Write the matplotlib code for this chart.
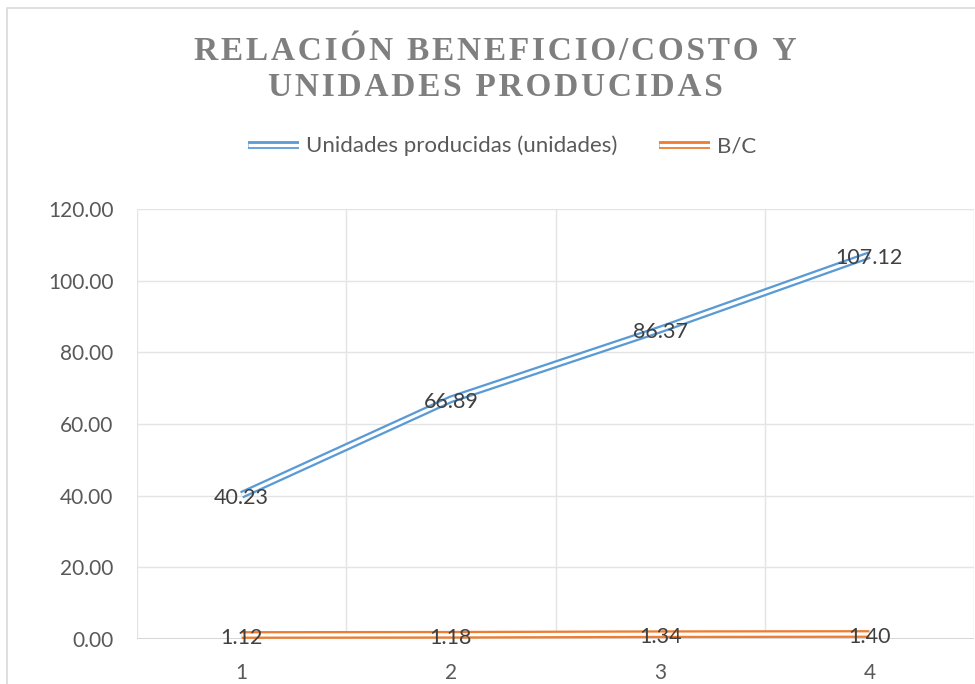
import matplotlib
matplotlib.use("Agg")
import matplotlib.pyplot as plt
from matplotlib.lines import Line2D
from matplotlib.patches import Rectangle
from matplotlib.legend_handler import HandlerTuple

# data
periodos = [1, 2, 3, 4]
unidades = [40.23, 66.89, 86.37, 107.12]
beneficio_costo = [1.12, 1.18, 1.34, 1.40]
y_ticks = [0, 20, 40, 60, 80, 100, 120]

titulo = ["RELACIÓN BENEFICIO/COSTO Y", "UNIDADES PRODUCIDAS"]
nombres = ["Unidades producidas (unidades)", "B/C"]

AZUL = "#5B9BD5"
NARANJA = "#ED7D31"
GRIS_TXT = "#595959"
GRIS_GRID = "#e4e4e4"

plt.rcParams["font.family"] = ["Lato", "DejaVu Sans"]

W, H = 975, 684
fig = plt.figure(figsize=(W / 100, H / 100), dpi=100)
fig.patch.set_facecolor("white")

# chart area border (cut off at right and bottom like the screenshot)
fig.patches.append(Rectangle((7 / W, -0.1), 1.2, 1 - 8 / H + 0.1,
                             transform=fig.transFigure, fill=False,
                             edgecolor="#d9d9d9", linewidth=1.2))

ax = fig.add_axes([137 / W, 1 - 639 / H, (974 - 137) / W, (639 - 209) / H])
ax.set_xlim(0.5, 4.5)
ax.set_ylim(0, 120)

# gridlines between the categories, Excel style
for xg in [0.5, 1.5, 2.5, 3.5, 4.5]:
    ax.axvline(xg, color=GRIS_GRID, lw=1.0, zorder=0)
for yg in y_ticks[1:]:
    ax.axhline(yg, color=GRIS_GRID, lw=1.0, zorder=0)
ax.axhline(0, color="#d0d0d0", lw=1.2, zorder=1)

for s in ax.spines.values():
    s.set_visible(False)

ax.set_yticks(y_ticks)
ax.set_yticklabels([f"{v:.2f}" for v in y_ticks])
ax.set_xticks(periodos)
ax.set_xticklabels([str(p) for p in periodos])
ax.tick_params(axis="both", length=0, labelsize=15, colors=GRIS_TXT)
ax.tick_params(axis="y", pad=17)
ax.tick_params(axis="x", pad=17)


def doble_linea(x, y, color):
    # compound "double" line: wide coloured stroke with a white core
    ax.plot(x, y, color=color, lw=5.6, solid_capstyle="butt", zorder=3)
    ax.plot(x, y, color="white", lw=2.3, solid_capstyle="butt", zorder=4)


doble_linea(periodos, unidades, AZUL)
doble_linea(periodos, beneficio_costo, NARANJA)

for serie in [unidades, beneficio_costo]:
    for xp, yp in zip(periodos, serie):
        ax.annotate(f"{yp:.2f}", (xp, yp), xytext=(0, -2),
                    textcoords="offset points", ha="center", va="center",
                    fontsize=15.5, color="#404040", zorder=6)

# title, bold serif with wide letter spacing
for i, linea in enumerate(titulo):
    espaciado = "\u200a".join(linea)
    fig.text(495 / W, 1 - (51 + 36 * i) / H, espaciado, ha="center", va="center",
             fontsize=24, fontweight="bold", color="#7f7f7f",
             family=["Liberation Serif", "DejaVu Serif"])

h_azul = (Line2D([], [], color=AZUL, lw=5.6, solid_capstyle="butt"),
          Line2D([], [], color="white", lw=2.3, solid_capstyle="butt"))
h_nar = (Line2D([], [], color=NARANJA, lw=5.6, solid_capstyle="butt"),
         Line2D([], [], color="white", lw=2.3, solid_capstyle="butt"))
fig.legend([h_azul, h_nar], nombres, loc="center",
           bbox_to_anchor=(502 / W, 1 - 146 / H), ncol=2, frameon=False,
           fontsize=16, labelcolor=GRIS_TXT, handlelength=2.3,
           handletextpad=0.3, columnspacing=1.9,
           handler_map={tuple: HandlerTuple(ndivide=1)})

fig.savefig("out.png", dpi=100, facecolor="white")
